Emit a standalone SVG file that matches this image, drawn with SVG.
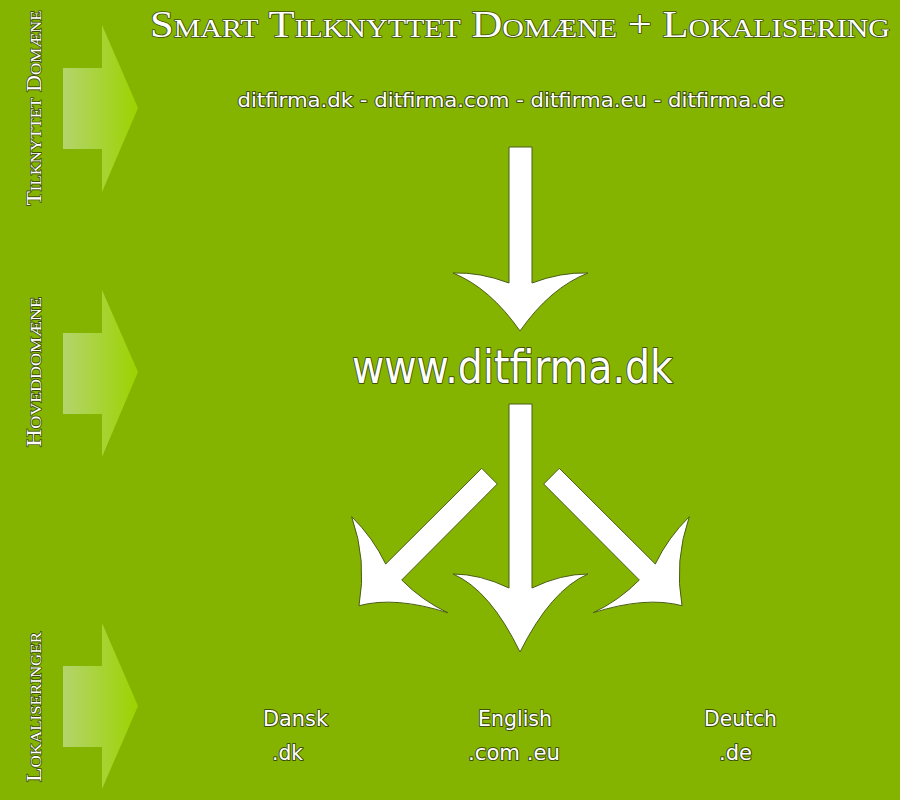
<svg xmlns="http://www.w3.org/2000/svg" width="900" height="800" viewBox="0 0 900 800">
<defs>
<linearGradient id="sideGrad" gradientUnits="objectBoundingBox" x1="0" y1="0" x2="1" y2="0">
<stop offset="0" stop-color="#b4d46c"/>
<stop offset="1" stop-color="#9cd300"/>
</linearGradient>
<style>
.side{fill:url(#sideGrad);}
.big{fill:#ffffff;stroke:#4b5e18;stroke-width:1;stroke-linejoin:miter;}
.lbl{fill:#ffffff;stroke:#3e4f10;stroke-width:2;paint-order:stroke;stroke-linejoin:round;}
.sans{font-family:"DejaVu Sans","Liberation Sans",sans-serif;}
.serif{font-family:"Liberation Serif","DejaVu Serif",serif;font-variant:small-caps;stroke-width:1.6;}
</style>
</defs>
<rect x="0" y="0" width="900" height="800" fill="#84b400"/>

<g id="side-arrows">
<polygon class="side" points="63,68 102,68 102,25 138,108 102,192 102,149 63,149"/>
<polygon class="side" points="63,333 102,333 102,290 138,372 102,457 102,414 63,414"/>
<polygon class="side" points="63,666 102,666 102,623 138,706 102,789 102,747 63,747"/>
</g>

<g id="side-labels">
<text class="lbl serif" transform="translate(41,108) rotate(-90)" text-anchor="middle" font-size="21" textLength="195" lengthAdjust="spacingAndGlyphs">Tilknyttet Domæne</text>
<text class="lbl serif" transform="translate(41,372) rotate(-90)" text-anchor="middle" font-size="21" textLength="150" lengthAdjust="spacingAndGlyphs">Hoveddomæne</text>
<text class="lbl serif" transform="translate(41,707) rotate(-90)" text-anchor="middle" font-size="21" textLength="150" lengthAdjust="spacingAndGlyphs">Lokaliseringer</text>
</g>

<g id="title">
<text class="lbl serif" x="150" y="37" font-size="37" textLength="740" lengthAdjust="spacingAndGlyphs">Smart Tilknyttet Domæne + Lokalisering</text>
</g>

<g id="node-domains">
<text class="lbl sans" x="511" y="107" text-anchor="middle" font-size="20" textLength="547" lengthAdjust="spacingAndGlyphs">ditfirma.dk - ditfirma.com - ditfirma.eu - ditfirma.de</text>
</g>

<g id="node-main">
<text class="lbl sans" x="512.5" y="383" text-anchor="middle" font-size="46" textLength="321" lengthAdjust="spacingAndGlyphs">www.ditfirma.dk</text>
</g>

<g id="node-dansk">
<text class="lbl sans" x="295.5" y="726" text-anchor="middle" font-size="21" textLength="65" lengthAdjust="spacingAndGlyphs">Dansk</text>
<text class="lbl sans" x="287.5" y="760" text-anchor="middle" font-size="21" textLength="31" lengthAdjust="spacingAndGlyphs">.dk</text>
</g>
<g id="node-english">
<text class="lbl sans" x="515" y="726" text-anchor="middle" font-size="21" textLength="74" lengthAdjust="spacingAndGlyphs">English</text>
<text class="lbl sans" x="514" y="760" text-anchor="middle" font-size="21" textLength="92" lengthAdjust="spacingAndGlyphs">.com .eu</text>
</g>
<g id="node-deutch">
<text class="lbl sans" x="740.5" y="726" text-anchor="middle" font-size="21" textLength="73" lengthAdjust="spacingAndGlyphs">Deutch</text>
<text class="lbl sans" x="735.5" y="760" text-anchor="middle" font-size="21" textLength="33" lengthAdjust="spacingAndGlyphs">.de</text>
</g>

<g id="connectors">
<path class="big" d="M509,147 H532 V283 Q561,272 588,273 Q550,288 520,331 Q490,288 453,273 Q480,272 509,283 Z"/>
<path class="big" d="M509,404 H532 V588 Q561,574 588,574 Q551,590 520,652 Q490,590 453,574 Q480,574 509,588 Z"/>
<path id="arrow-left" class="big" d="M481.7,468.3 L497.3,484 L401.7,580 Q421.8,600.4 447.7,612.7 Q395,596 359,605.7 Q367,561 351.7,516.7 Q372.8,537.4 385.7,564 Z"/>
<path class="big" transform="translate(1041,0) scale(-1,1)" d="M481.7,468.3 L497.3,484 L401.7,580 Q421.8,600.4 447.7,612.7 Q395,596 359,605.7 Q367,561 351.7,516.7 Q372.8,537.4 385.7,564 Z"/>
</g>
</svg>
